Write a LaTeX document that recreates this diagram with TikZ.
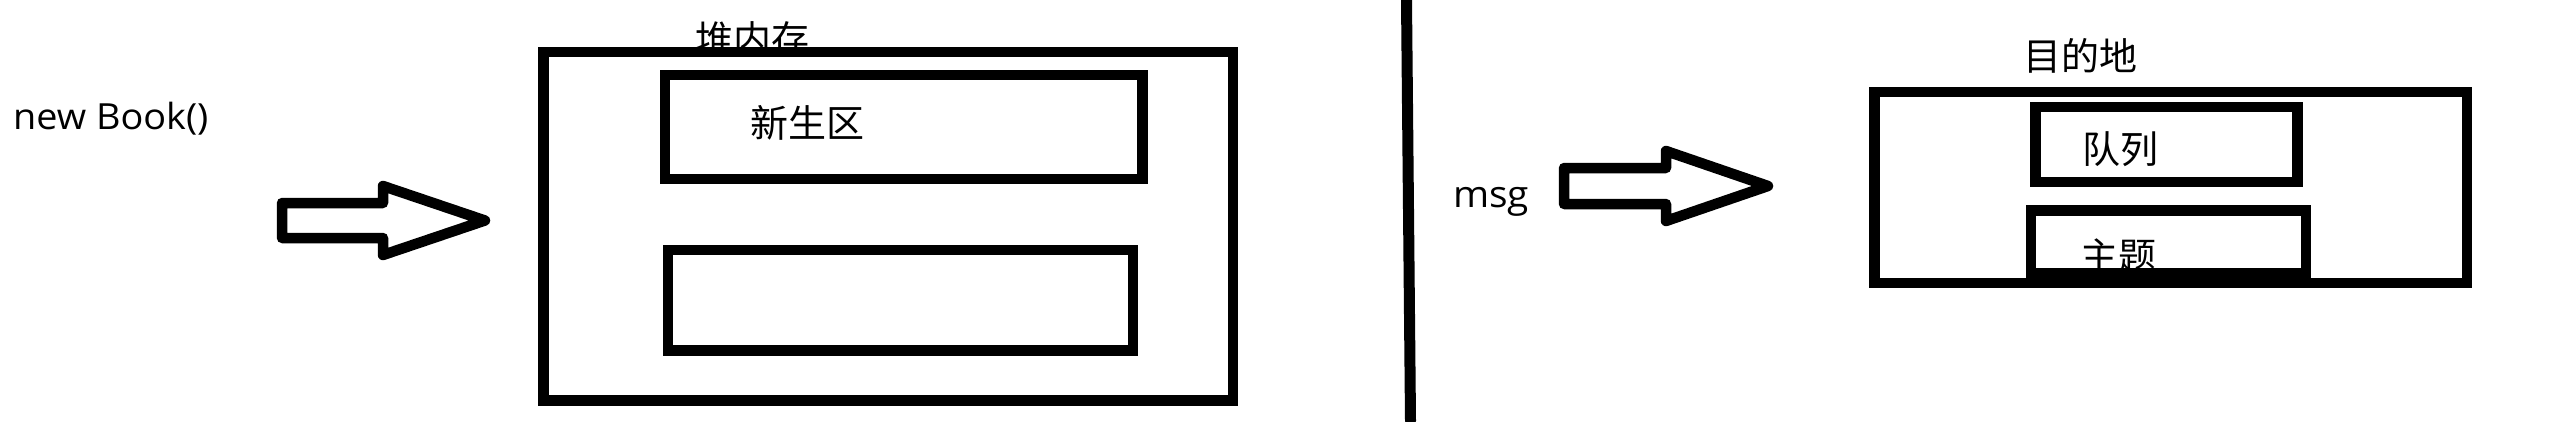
\documentclass[tikz,border=0pt]{standalone}
\usepackage{fontspec}
\setmainfont[FakeStretch=1.05]{Open Sans}
\newfontfamily\cjk{Noto Sans CJK SC}
\begin{document}
\begin{tikzpicture}[x=1pt,y=-1pt,
  box/.style={draw=black,line width=10.5pt,inner sep=0pt,outer sep=0pt},
  cjklabel/.style={inner sep=0pt,anchor=base,font=\cjk\fontsize{38}{40}\selectfont},
  latlabel/.style={inner sep=0pt,anchor=base west,font=\fontsize{36}{40}\selectfont},
  blockarrow/.style={draw=black,line width=10.5pt,line join=round,fill=white}]
\useasboundingbox[fill=white] (0,0) rectangle (2560,421);
% labels (drawn first so borders cover them where they overlap)
\node[latlabel] (newbook) at (13,129) {new Book()};
\node[cjklabel] (heaplbl) at (752.5,53.5) {堆内存};
\node[cjklabel] (younglbl) at (807.5,137.5) {新生区};
\node[latlabel,font=\fontsize{37}{40}\selectfont] (msg) at (1453,207) {msg};
\node[cjklabel] (destlbl) at (2080,70) {目的地};
\node[cjklabel] (queuelbl) at (2120,163) {队列};
\node[cjklabel] (topiclbl) at (2118.5,270.5) {主题};
% boxes
\node[box,minimum width=689.5pt,minimum height=348.5pt] (heap) at (888.25,226.25) {};
\node[box,minimum width=477.5pt,minimum height=104pt] (young) at (903.75,127) {};
\node[box,minimum width=465pt,minimum height=100.5pt] (old) at (900.5,300.25) {};
\node[box,minimum width=592.5pt,minimum height=191pt] (dest) at (2170.75,187.5) {};
\node[box,minimum width=262pt,minimum height=75pt] (queue) at (2166.5,144.5) {};
\node[box,minimum width=275pt,minimum height=62.5pt] (topic) at (2168.5,241.75) {};
% block arrows
\draw[blockarrow] (282,203) -- (383,203) -- (383,186) -- (485,220.5) -- (383,255) -- (383,238) -- (282,238) -- cycle;
\draw[blockarrow] (1564,168) -- (1666,168) -- (1666,151) -- (1768,186) -- (1666,221) -- (1666,204) -- (1564,204) -- cycle;
% divider
\coordinate (divtop) at (1406.5,0);
\coordinate (divbot) at (1410.5,421);
\draw[line width=11pt,line cap=round] (divtop) -- (divbot);
\end{tikzpicture}
\end{document}
